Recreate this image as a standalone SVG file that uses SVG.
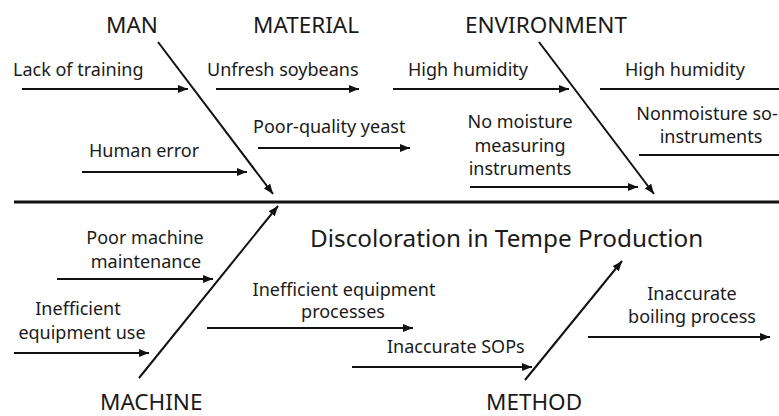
<svg xmlns="http://www.w3.org/2000/svg" width="779" height="416" viewBox="0 0 779 416">
  <defs>
    <marker id="arrow" viewBox="0 0 10 8" refX="10" refY="4" markerWidth="10" markerHeight="8" markerUnits="userSpaceOnUse" orient="auto">
      <path d="M0,0 L10,4 L0,8 z" fill="#111"/>
    </marker>
    <style>
      .bone { stroke: #111; stroke-width: 2; fill: none; }
      .spine { stroke: #111; stroke-width: 3; fill: none; }
      .arr { marker-end: url(#arrow); }
      text { font-family: "Noto Sans", "Open Sans", sans-serif; fill: #1a1a1a; }
      .cat { font-size: 22.5px; }
      .lbl { font-size: 18px; }
      .mid { text-anchor: middle; }
      .title { font-size: 24.3px; }
    </style>
  </defs>
  <rect width="779" height="416" fill="#fff"/>

  <!-- bones and cause arrows -->
  <g id="connectors">
    <line class="spine" x1="14" y1="202" x2="779" y2="202"/>
    <line class="bone arr" x1="158" y1="42" x2="273" y2="194"/>
    <line class="bone arr" x1="539" y1="42" x2="654" y2="194"/>
    <line class="bone arr" x1="139" y1="378" x2="278" y2="206"/>
    <line class="bone arr" x1="525" y1="380" x2="622" y2="261"/>

    <line class="bone arr" x1="22" y1="89" x2="188" y2="89"/>
    <line class="bone arr" x1="82" y1="172" x2="247" y2="172"/>
    <line class="bone arr" x1="216" y1="89" x2="359" y2="89"/>
    <line class="bone arr" x1="258" y1="148" x2="410" y2="148"/>
    <line class="bone arr" x1="393" y1="89" x2="569" y2="89"/>
    <line class="bone arr" x1="470" y1="187" x2="638" y2="187"/>
    <line class="bone" x1="600" y1="89" x2="779" y2="89"/>
    <line class="bone" x1="639" y1="155" x2="779" y2="155"/>
    <line class="bone arr" x1="57" y1="279" x2="213" y2="279"/>
    <line class="bone arr" x1="14" y1="353" x2="149" y2="353"/>
    <line class="bone arr" x1="207" y1="328" x2="413" y2="328"/>
    <line class="bone arr" x1="352" y1="367" x2="532" y2="367"/>
    <line class="bone arr" x1="588" y1="337" x2="770" y2="337"/>
  </g>

  <g id="effect">
    <text class="title" x="310" y="247">Discoloration in Tempe Production</text>
  </g>

  <g id="man">
    <text class="cat" x="106" y="33">MAN</text>
    <text class="lbl" x="13" y="76">Lack of training</text>
    <text class="lbl" x="89" y="157">Human error</text>
  </g>

  <g id="material">
    <text class="cat" x="253" y="33">MATERIAL</text>
    <text class="lbl" x="207" y="76">Unfresh soybeans</text>
    <text class="lbl" x="253" y="133">Poor-quality yeast</text>
  </g>

  <g id="environment">
    <text class="cat" x="465" y="33">ENVIRONMENT</text>
    <text class="lbl" x="408" y="76">High humidity</text>
    <text class="lbl mid" x="520" y="128">No moisture</text>
    <text class="lbl mid" x="520" y="152">measuring</text>
    <text class="lbl mid" x="520" y="175">instruments</text>
    <text class="lbl" x="625" y="76">High humidity</text>
    <text class="lbl mid" x="707" y="120">Nonmoisture so-</text>
    <text class="lbl mid" x="711" y="143">instruments</text>
  </g>

  <g id="machine">
    <text class="cat" x="100" y="410">MACHINE</text>
    <text class="lbl mid" x="145" y="244">Poor machine</text>
    <text class="lbl mid" x="146" y="268">maintenance</text>
    <text class="lbl mid" x="78" y="315">Inefficient</text>
    <text class="lbl mid" x="82" y="339">equipment use</text>
  </g>

  <g id="method">
    <text class="cat" x="486" y="410">METHOD</text>
    <text class="lbl mid" x="344" y="296">Inefficient equipment</text>
    <text class="lbl mid" x="343" y="318">processes</text>
    <text class="lbl" x="387" y="353">Inaccurate SOPs</text>
    <text class="lbl mid" x="692" y="300">Inaccurate</text>
    <text class="lbl mid" x="692" y="323">boiling process</text>
  </g>
</svg>
